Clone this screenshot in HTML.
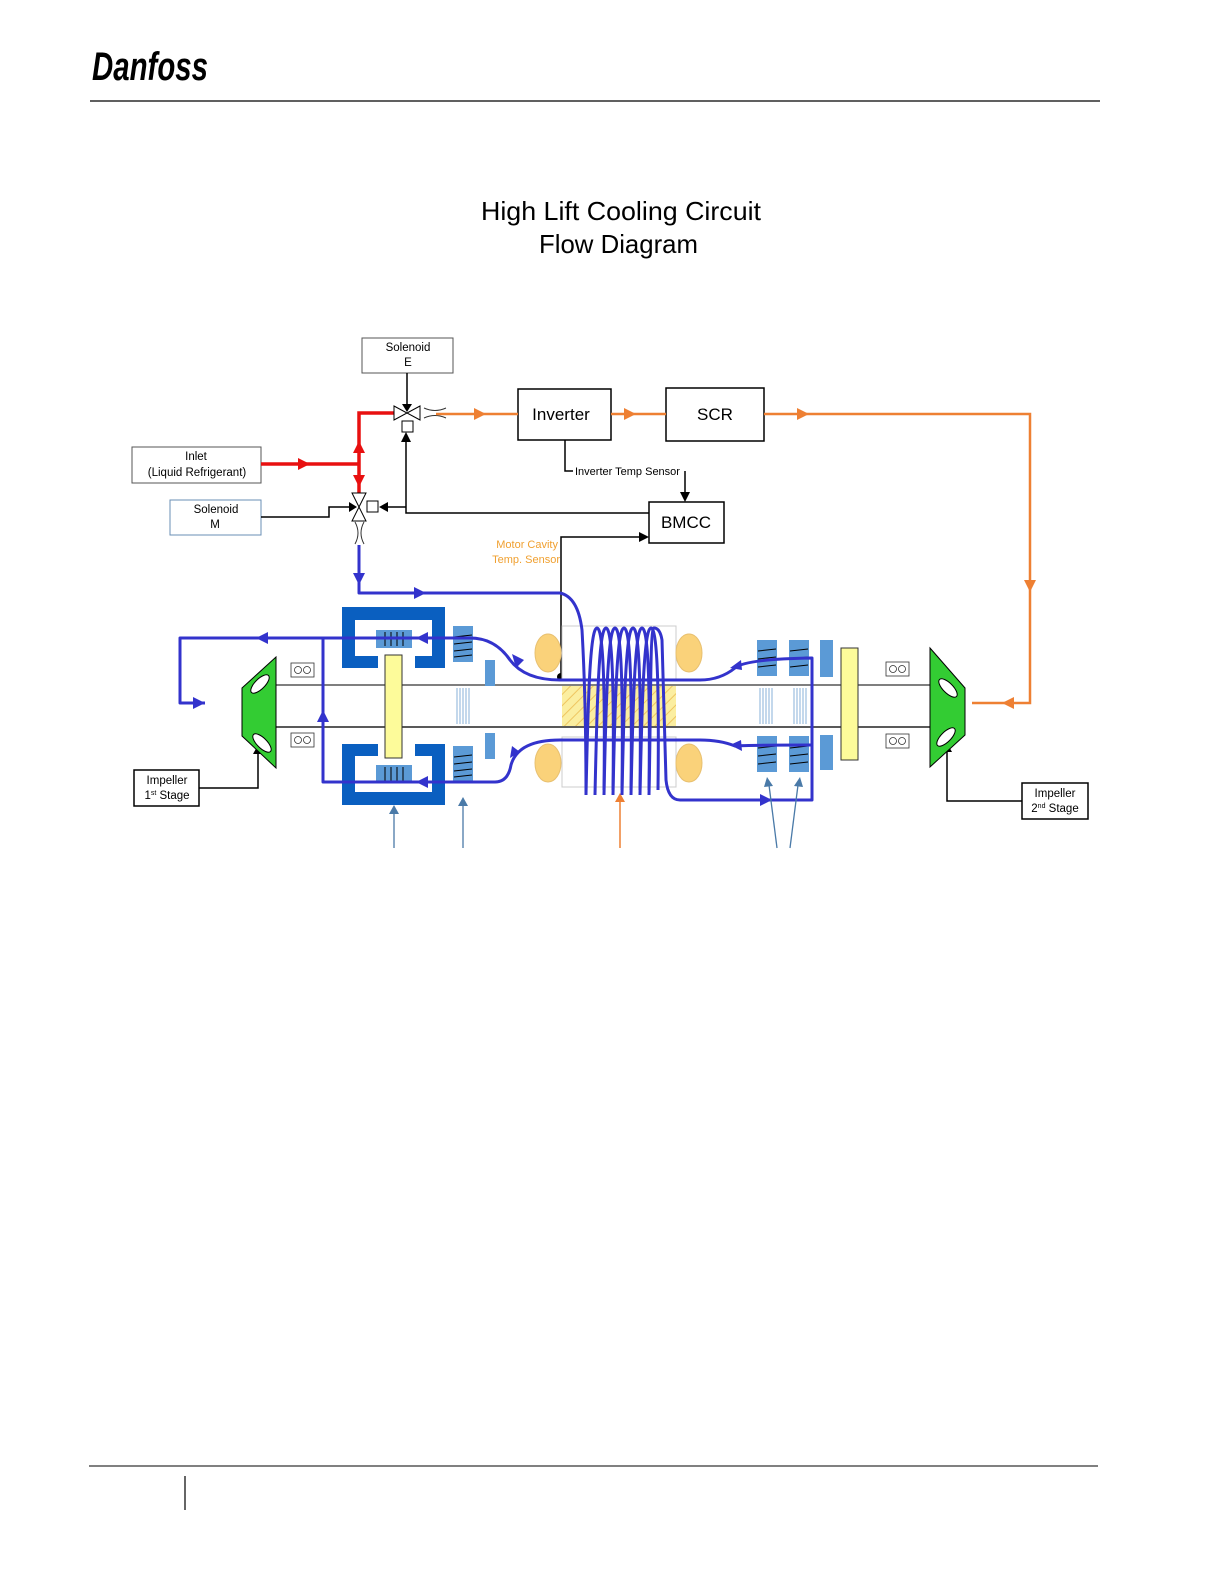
<!DOCTYPE html>
<html><head><meta charset="utf-8"><style>
html,body{margin:0;padding:0;background:#fff;overflow:hidden;width:1224px;height:1584px}
svg{position:absolute;left:0;top:0;display:block}
text{font-family:"Liberation Sans",sans-serif}
</style></head><body>
<svg width="1224" height="1584" viewBox="0 0 1224 1584" xmlns="http://www.w3.org/2000/svg">
<defs>
<pattern id="hatch" width="8" height="8" patternUnits="userSpaceOnUse" patternTransform="rotate(45)"><rect width="8" height="8" fill="#fbeea0"/><line x1="0" y1="0" x2="0" y2="8" stroke="#eec560" stroke-width="2"/></pattern>
</defs>
<!-- header -->
<text x="92" y="80" font-family="Liberation Serif,serif" font-style="italic" font-weight="bold" font-size="40" textLength="116" lengthAdjust="spacingAndGlyphs">Danfoss</text>
<line x1="90" y1="101" x2="1100" y2="101" stroke="#000" stroke-width="1.2"/>
<line x1="89" y1="1466" x2="1098" y2="1466" stroke="#000" stroke-width="1"/>
<line x1="185" y1="1476" x2="185" y2="1510" stroke="#000" stroke-width="1.2"/>
<text x="481" y="220" font-size="26" textLength="280" lengthAdjust="spacingAndGlyphs">High Lift  Cooling Circuit</text>
<text x="539" y="253" font-size="26" textLength="159" lengthAdjust="spacingAndGlyphs">Flow Diagram</text>

<!-- boxes -->
<g fill="#fff" stroke="#333" stroke-width="1">
<rect x="362" y="338" width="91" height="35" stroke="#555"/>
<rect x="132" y="447" width="129" height="36" stroke="#555"/>
<rect x="170" y="500" width="91" height="35" stroke="#6a8fb5"/>
</g>
<g fill="#fff" stroke="#000" stroke-width="1.5">
<rect x="518" y="389" width="93" height="51"/>
<rect x="666" y="388" width="98" height="53"/>
<rect x="649" y="502" width="75" height="41"/>
<rect x="134" y="770" width="65" height="36"/>
<rect x="1022" y="783" width="66" height="36"/>
</g>
<g font-size="11.5" text-anchor="middle">
<text x="408" y="351">Solenoid</text><text x="408" y="366">E</text>
<text x="196" y="460">Inlet</text><text x="197" y="476">(Liquid Refrigerant)</text>
<text x="216" y="513">Solenoid</text><text x="215" y="528">M</text>
<text x="167" y="784">Impeller</text><text x="167" y="799">1<tspan font-size="7" dy="-4">st</tspan><tspan dy="4"> Stage</tspan></text>
<text x="1055" y="797">Impeller</text><text x="1055" y="812">2<tspan font-size="7" dy="-4">nd</tspan><tspan dy="4"> Stage</tspan></text>
</g>
<g font-size="17" text-anchor="middle">
<text x="561" y="420">Inverter</text><text x="715" y="420">SCR</text><text x="686" y="528">BMCC</text>
</g>
<text x="575" y="475" font-size="11">Inverter Temp Sensor</text>
<text x="558" y="548" font-size="11" fill="#f0a030" text-anchor="end">Motor Cavity</text>
<text x="560" y="563" font-size="11" fill="#f0a030" text-anchor="end">Temp. Sensor</text>

<!-- black control lines -->
<g stroke="#000" stroke-width="1.5" fill="none">
<polyline points="407,373 407,404"/>
<polyline points="649,513 406,513 406,440"/>
<polyline points="406,507 385,507"/>
<polyline points="261,517 329,517 329,507 350,507"/>
<polyline points="565,440 565,471 573,471"/>
<polyline points="685,471 685,496"/>
<polyline points="561,677 561,537 640,537"/>
<polyline points="199,788 258,788 258,752"/>
<polyline points="1022,801 947,801 947,750"/>
</g>
<g fill="#000">
<path d="M402,404L412,404L407,412z"/>
<path d="M401,442L411,442L406,432z"/>
<path d="M388,502L388,512L379,507z"/>
<path d="M349,502L349,512L357,507z"/>
<path d="M680,492L690,492L685,502z"/>
<path d="M639,532L639,542L649,537z"/>
<path d="M253,754L263,754L258,745z"/>
<path d="M942,752L952,752L947,743z"/>
<circle cx="561" cy="677" r="4"/>
</g>

<!-- red lines -->
<g stroke="#e81010" stroke-width="3.5" fill="none">
<polyline points="261,464 359,464"/>
<polyline points="359,500 359,413 398,413"/>
</g>
<g fill="#e81010">
<path d="M298,458L310,464L298,470z"/>
<path d="M353,453L365,453L359,441z"/>
<path d="M353,475L365,475L359,487z"/>
</g>
<!-- valves -->
<g stroke="#000" stroke-width="1" fill="#fff">
<path d="M394,406L407,413L394,420z M420,406L407,413L420,420z"/>
<path d="M352,493L366,493L359,507z M352,521L366,521L359,507z"/>
<rect x="402" y="421" width="11" height="11"/>
<rect x="367" y="501" width="11" height="11"/>
</g>
<path d="M424,408Q435,413 446,408 M424,418Q435,413 446,418" stroke="#333" fill="none"/>
<path d="M355,522Q361,533 355,544 M364,522Q358,533 364,544" stroke="#333" fill="none"/>

<!-- orange -->
<g stroke="#ee8033" stroke-width="2.5" fill="none">
<polyline points="436,414 518,414"/>
<polyline points="611,414 666,414"/>
<polyline points="764,414 1030,414 1030,703 972,703"/>
<line x1="620" y1="848" x2="620" y2="800" stroke-width="1.5"/>
</g>
<g fill="#ee8033">
<path d="M474,408L486,414L474,420z"/>
<path d="M624,408L636,414L624,420z"/>
<path d="M797,408L809,414L797,420z"/>
<path d="M1024,580L1036,580L1030,592z"/>
<path d="M1014,697L1002,703L1014,709z"/>
<path d="M615,802L625,802L620,793z"/>
</g>

<!-- motor body -->
<g stroke="#555" stroke-width="1.5">
<line x1="276" y1="685" x2="930" y2="685"/>
<line x1="276" y1="727" x2="930" y2="727" stroke="#222"/>
</g>
<rect x="562" y="626" width="114" height="54" fill="#fff" stroke="#ccc"/>
<rect x="562" y="737" width="114" height="50" fill="#fff" stroke="#ccc"/>
<rect x="562" y="686" width="114" height="40" fill="url(#hatch)"/>
<g fill="#fad27a" stroke="#e8c070">
<ellipse cx="548" cy="653" rx="13" ry="19"/><ellipse cx="689" cy="653" rx="13" ry="19"/>
<ellipse cx="548" cy="763" rx="13" ry="19"/><ellipse cx="689" cy="763" rx="13" ry="19"/>
</g>
<!-- thin shaft lines -->
<g stroke="#6a9fd0" stroke-width="0.8">
<line x1="457" y1="688" x2="457" y2="724"/><line x1="460" y1="688" x2="460" y2="724"/><line x1="463" y1="688" x2="463" y2="724"/><line x1="466" y1="688" x2="466" y2="724"/><line x1="469" y1="688" x2="469" y2="724"/>
<line x1="760" y1="688" x2="760" y2="724"/><line x1="763" y1="688" x2="763" y2="724"/><line x1="766" y1="688" x2="766" y2="724"/><line x1="769" y1="688" x2="769" y2="724"/><line x1="772" y1="688" x2="772" y2="724"/>
<line x1="794" y1="688" x2="794" y2="724"/><line x1="797" y1="688" x2="797" y2="724"/><line x1="800" y1="688" x2="800" y2="724"/><line x1="803" y1="688" x2="803" y2="724"/><line x1="806" y1="688" x2="806" y2="724"/>
</g>
<!-- left bearing -->
<g fill="#0a5fc0">
<path d="M342,607H445V668H415V656H432V620H355V656H378V668H342z"/>
<path d="M342,805H445V744H415V756H432V792H355V756H378V744H342z"/>
</g>
<g fill="#5b9ad6">
<rect x="376" y="630" width="36" height="18"/><rect x="376" y="765" width="36" height="18"/>
<rect x="453" y="626" width="20" height="36"/><rect x="453" y="746" width="20" height="36"/>
<rect x="485" y="660" width="10" height="26"/><rect x="485" y="733" width="10" height="26"/>
<rect x="757" y="640" width="20" height="36"/><rect x="789" y="640" width="20" height="36"/>
<rect x="757" y="736" width="20" height="36"/><rect x="789" y="736" width="20" height="36"/>
<rect x="820" y="640" width="13" height="37"/><rect x="820" y="735" width="13" height="35"/>
</g>
<g stroke="#000" stroke-width="1" fill="none">
<path d="M385,632v14M391,632v14M397,632v14M403,632v14M385,767v14M391,767v14M397,767v14M403,767v14"/>
<path d="M454,637l18-2M454,644l18-2M454,651l18-2M454,657l18-2M454,757l18-2M454,764l18-2M454,771l18-2M454,777l18-2"/>
<path d="M758,651l18-2M758,659l18-2M758,667l18-2M790,651l18-2M790,659l18-2M790,667l18-2M758,748l18-2M758,756l18-2M758,764l18-2M790,748l18-2M790,756l18-2M790,764l18-2"/>
</g>
<rect x="385" y="655" width="17" height="103" fill="#fdfb9a" stroke="#333"/>
<rect x="841" y="648" width="17" height="112" fill="#fdfb9a" stroke="#333"/>
<!-- small bearing symbols -->
<g stroke="#333" stroke-width="0.8" fill="#fff">
<rect x="291" y="663" width="23" height="14"/><rect x="291" y="733" width="23" height="14"/>
<rect x="886" y="662" width="23" height="14"/><rect x="886" y="734" width="23" height="14"/>
<circle cx="298" cy="670" r="3.5"/><circle cx="307" cy="670" r="3.5"/><circle cx="298" cy="740" r="3.5"/><circle cx="307" cy="740" r="3.5"/>
<circle cx="893" cy="669" r="3.5"/><circle cx="902" cy="669" r="3.5"/><circle cx="893" cy="741" r="3.5"/><circle cx="902" cy="741" r="3.5"/>
</g>
<!-- impellers -->
<path d="M242,688L276,657L276,768L242,736z" fill="#33cc33" stroke="#000"/>
<ellipse cx="260" cy="684" rx="5" ry="12" transform="rotate(45 260 684)" fill="#fff" stroke="#000"/>
<ellipse cx="262" cy="743" rx="5" ry="12" transform="rotate(-45 262 743)" fill="#fff" stroke="#000"/>
<path d="M930,648L965,688L965,735L930,767z" fill="#33cc33" stroke="#000"/>
<ellipse cx="948" cy="688" rx="5" ry="12" transform="rotate(-45 948 688)" fill="#fff" stroke="#000"/>
<ellipse cx="946" cy="737" rx="5" ry="12" transform="rotate(45 946 737)" fill="#fff" stroke="#000"/>

<!-- blue flow -->
<g stroke="#3333cc" stroke-width="3" fill="none" stroke-linejoin="round">
<path d="M359,545V593H560Q578,597 582,630Q586,700 586,795"/>
<path d="M205,703H180V638H470Q495,638 510,660Q525,680 560,680H700Q720,680 735,668Q745,659 812,658V800H680Q668,800 666,780Q664,700 662,640Q660,628 654,628"/>
<path d="M323,638V782H495Q508,782 511,765Q518,740 560,740H700Q720,740 735,746Q745,745 812,745"/>
<path d="M586,795C588,700 590,628 597,628C604,628 605,700 604,790"/>
<path d="M595,795C597,700 599,628 606,628C613,628 614,700 613,790"/>
<path d="M604,795C606,700 608,628 615,628C622,628 623,700 622,790"/>
<path d="M613,795C615,700 617,628 624,628C631,628 632,700 631,790"/>
<path d="M622,795C624,700 626,628 633,628C640,628 641,700 640,790"/>
<path d="M631,795C633,700 635,628 642,628C649,628 650,700 649,790"/>
<path d="M640,795C642,700 644,628 651,628C658,628 659,700 658,790"/>
<path d="M649,795C651,700 650,628 654,628"/>
</g>
<g fill="#3333cc">
<path d="M353,573L365,573L359,585z"/>
<path d="M414,587L426,593L414,599z"/>
<path d="M268,632L256,638L268,644z"/>
<path d="M193,697L205,703L193,709z"/>
<path d="M428,632L416,638L428,644z"/>
<path d="M317,722L329,722L323,710z"/>
<path d="M428,776L416,782L428,788z"/>
<path d="M512,654L516,668L524,660z"/>
<path d="M510,758L520,752L512,746z"/>
<path d="M741,660L730,668L742,670z"/>
<path d="M741,740L730,745L742,751z"/>
<path d="M760,794L772,800L760,806z"/>
</g>
<!-- bottom steelblue arrows -->
<g stroke="#4a7aa8" stroke-width="1.3">
<line x1="394" y1="848" x2="394" y2="812"/>
<line x1="463" y1="848" x2="463" y2="804"/>
<line x1="777" y1="848" x2="769" y2="785"/>
<line x1="790" y1="848" x2="798" y2="785"/>
</g>
<g fill="#4a7aa8">
<path d="M389,814L399,814L394,805z"/>
<path d="M458,806L468,806L463,797z"/>
<path d="M764,787L773,786L767,777z"/>
<path d="M794,786L803,787L800,777z"/>
</g>
</svg>
</body></html>
